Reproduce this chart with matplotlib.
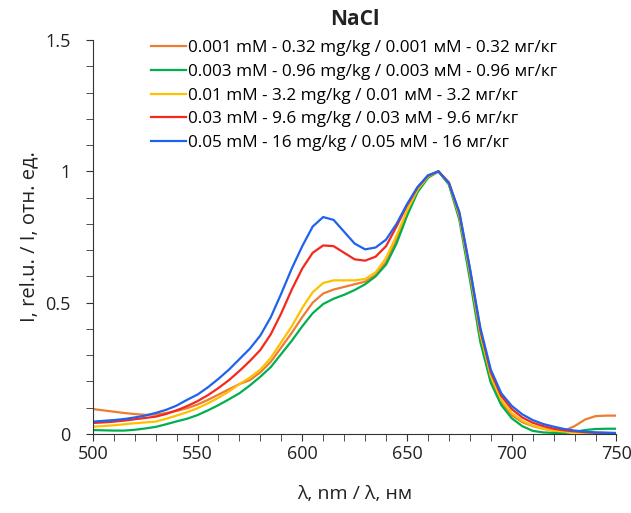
import matplotlib
matplotlib.use("Agg")
import matplotlib.pyplot as plt
from matplotlib.ticker import MultipleLocator, FuncFormatter

plt.rcParams['font.family'] = ['Open Sans', 'DejaVu Sans']

# Длины волн, нм
wl = list(range(500, 751, 5))

# Спектры (отн. ед.)
i_0001 = [0.095, 0.090, 0.085, 0.080, 0.076, 0.073, 0.074, 0.080, 0.088, 0.098,
          0.112, 0.130, 0.150, 0.170, 0.190, 0.205, 0.235, 0.275, 0.330, 0.385,
          0.445, 0.500, 0.535, 0.550, 0.560, 0.570, 0.580, 0.605, 0.655, 0.740,
          0.840, 0.925, 0.978, 1.000, 0.952, 0.825, 0.605, 0.365, 0.210, 0.120,
          0.072, 0.045, 0.030, 0.020, 0.013, 0.012, 0.030, 0.055, 0.068, 0.070,
          0.070]
i_0003 = [0.015, 0.014, 0.013, 0.013, 0.016, 0.021, 0.027, 0.037, 0.048, 0.058,
          0.072, 0.090, 0.110, 0.132, 0.155, 0.185, 0.218, 0.255, 0.305, 0.355,
          0.410, 0.460, 0.495, 0.515, 0.530, 0.548, 0.570, 0.600, 0.645, 0.725,
          0.830, 0.920, 0.975, 1.000, 0.950, 0.815, 0.590, 0.350, 0.195, 0.110,
          0.060, 0.030, 0.012, 0.006, 0.004, 0.004, 0.008, 0.015, 0.019, 0.020,
          0.020]
i_001 = [0.028, 0.030, 0.033, 0.037, 0.041, 0.044, 0.047, 0.058, 0.070, 0.083,
         0.098, 0.117, 0.138, 0.162, 0.190, 0.215, 0.245, 0.290, 0.350, 0.410,
         0.480, 0.540, 0.575, 0.585, 0.585, 0.585, 0.590, 0.615, 0.670, 0.755,
         0.850, 0.930, 0.980, 1.000, 0.955, 0.830, 0.615, 0.380, 0.220, 0.130,
         0.080, 0.050, 0.032, 0.020, 0.013, 0.009, 0.006, 0.004, 0.003, 0.003,
         0.002]
i_003 = [0.042, 0.044, 0.047, 0.051, 0.056, 0.061, 0.066, 0.076, 0.090, 0.106,
         0.125, 0.148, 0.175, 0.205, 0.240, 0.278, 0.320, 0.380, 0.460, 0.550,
         0.630, 0.690, 0.718, 0.715, 0.690, 0.665, 0.660, 0.675, 0.715, 0.790,
         0.870, 0.938, 0.983, 1.000, 0.958, 0.840, 0.630, 0.395, 0.235, 0.145,
         0.095, 0.063, 0.043, 0.030, 0.020, 0.014, 0.010, 0.007, 0.005, 0.004,
         0.003]
i_005 = [0.047, 0.050, 0.053, 0.057, 0.063, 0.070, 0.080, 0.092, 0.108, 0.130,
         0.150, 0.178, 0.210, 0.245, 0.285, 0.325, 0.375, 0.445, 0.535, 0.630,
         0.715, 0.790, 0.826, 0.815, 0.770, 0.725, 0.703, 0.710, 0.740, 0.800,
         0.875, 0.940, 0.985, 1.000, 0.955, 0.845, 0.632, 0.405, 0.245, 0.155,
         0.107, 0.075, 0.053, 0.038, 0.028, 0.019, 0.013, 0.009, 0.006, 0.005,
         0.004]

labels = [
    "0.001 mM - 0.32 mg/kg / 0.001 мМ - 0.32 мг/кг",
    "0.003 mM - 0.96 mg/kg / 0.003 мМ - 0.96 мг/кг",
    "0.01 mM - 3.2 mg/kg / 0.01 мМ - 3.2 мг/кг",
    "0.03 mM - 9.6 mg/kg / 0.03 мМ - 9.6 мг/кг",
    "0.05 mM - 16 mg/kg / 0.05 мМ - 16 мг/кг",
]
colors = ["#ED7D31", "#00B050", "#FFC000", "#F5281E", "#1E62F0"]
series = [i_0001, i_0003, i_001, i_003, i_005]

fig = plt.figure(figsize=(6.31, 5.13), dpi=100)
ax = fig.add_axes([0.147, 0.154, 0.830, 0.768])

for y, c, lab in zip(series, colors, labels):
    ax.plot(wl, y, color=c, lw=1.6, label=lab)

ax.set_xlim(500, 750)
ax.set_ylim(0, 1.5)
ax.xaxis.set_major_locator(MultipleLocator(50))
ax.xaxis.set_minor_locator(MultipleLocator(10))
ax.yaxis.set_major_locator(MultipleLocator(0.5))
ax.yaxis.set_minor_locator(MultipleLocator(0.1))
ax.yaxis.set_major_formatter(FuncFormatter(lambda v, p: f"{v:g}"))

for s in ["top", "right"]:
    ax.spines[s].set_visible(False)
for s in ["left", "bottom"]:
    ax.spines[s].set_color("#333333")
ax.tick_params(which="both", direction="out", length=5, colors="#333333",
               labelcolor="#222222", labelsize=13)
ax.tick_params(axis="y", pad=11)
ax.tick_params(axis="x", pad=3)

ax.set_xlabel("λ, nm / λ, нм", fontsize=14, color="#222222", labelpad=16)
ax.set_ylabel("I, rel.u. / I, отн. ед.", fontsize=14.5, color="#222222", labelpad=4)
ax.set_title("NaCl", fontsize=15, fontweight="bold", color="#222222", pad=11)

ax.legend(loc="upper left", bbox_to_anchor=(0.112, 0.999), frameon=False,
          fontsize=12.3, handlelength=2.0, handletextpad=0.15, labelspacing=0.45,
          borderaxespad=0, borderpad=0)

fig.savefig("out.png", dpi=100)
